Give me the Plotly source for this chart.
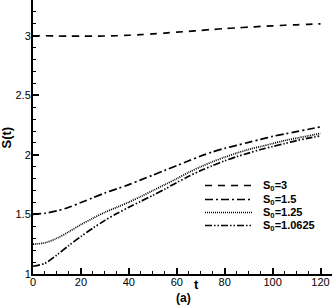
import plotly.graph_objects as go

t = [0, 5, 10, 15, 20, 25, 30, 35, 40, 45, 50, 55, 60, 65, 70, 75, 80, 85, 90, 95, 100, 105, 110, 115, 120]
s_3 = [3.000, 3.000, 2.998, 2.997, 2.997, 2.997, 2.998, 3.000, 3.004, 3.009, 3.015, 3.022, 3.030,
       3.037, 3.045, 3.053, 3.060, 3.066, 3.072, 3.078, 3.083, 3.088, 3.092, 3.096, 3.100]
s_15 = [1.500, 1.510, 1.530, 1.560, 1.600, 1.640, 1.680, 1.715, 1.750, 1.790, 1.830, 1.870, 1.910,
        1.950, 1.990, 2.025, 2.055, 2.080, 2.105, 2.130, 2.155, 2.175, 2.195, 2.215, 2.235]
s_125 = [1.250, 1.262, 1.300, 1.355, 1.415, 1.468, 1.518, 1.560, 1.603, 1.650, 1.700, 1.750, 1.800,
         1.853, 1.900, 1.943, 1.980, 2.015, 2.045, 2.070, 2.095, 2.120, 2.140, 2.160, 2.180]
s_10625 = [1.065, 1.090, 1.160, 1.240, 1.315, 1.385, 1.450, 1.508, 1.560, 1.610, 1.660, 1.712, 1.768,
           1.820, 1.868, 1.910, 1.950, 1.985, 2.015, 2.045, 2.070, 2.095, 2.120, 2.140, 2.160]

names = ["S<sub>0</sub>=3", "S<sub>0</sub>=1.5", "S<sub>0</sub>=1.25", "S<sub>0</sub>=1.0625"]
series = [s_3, s_15, s_125, s_10625]
dashes = ["7px,6px", "8px,3px,2px,3px", "1px,1px", "7px,2px,1.5px,2px,1.5px,2px"]

FONT = "Liberation Sans, Arial, sans-serif"

fig = go.Figure()
for name, ys, d in zip(names, series, dashes):
    fig.add_trace(go.Scatter(x=t, y=ys, mode="lines", name=name, showlegend=False,
                             hoverinfo="skip",
                             line=dict(color="black", width=1.7, dash=d, shape="spline", smoothing=0.8)))

axis_common = dict(showgrid=False, zeroline=False, showline=True, linecolor="black",
                   linewidth=2, ticks="inside", tickcolor="black", ticklen=6, tickwidth=1.5,
                   tickfont=dict(family=FONT, size=11, color="black"),
                   mirror=False, automargin=False)

fig.update_xaxes(range=[0, 124.8], tickvals=[0, 20, 40, 60, 80, 100, 120],
                 ticklabelstandoff=-3,
                 minor=dict(dtick=5, ticks="inside", ticklen=3, tickcolor="black", tickwidth=1),
                 **axis_common)
fig.update_yaxes(range=[1, 3.3], tickvals=[1, 1.5, 2, 2.5, 3],
                 ticklabelstandoff=-2,
                 minor=dict(dtick=0.1, ticks="inside", ticklen=3, tickcolor="black", tickwidth=1),
                 **axis_common)

# manual legend (pixel positions converted to paper coords)
def px(p):
    return (p - 33) / 299.0

def py(p):
    return (274 - p) / 274.0

legend_rows = [185.5, 199.5, 212.5, 225.5]
shapes = []
annotations = []
for name, d, ry in zip(names, dashes, legend_rows):
    shapes.append(dict(type="line", xref="paper", yref="paper", x0=px(205), x1=px(252),
                       y0=py(ry), y1=py(ry), line=dict(color="black", width=1.7, dash=d)))
    annotations.append(dict(text="<b>" + name + "</b>", x=px(261), y=py(ry), xref="paper", yref="paper",
                            xanchor="left", yanchor="middle", showarrow=False,
                            font=dict(family=FONT, size=11, color="black")))

annotations += [
    dict(text="<b>S(t)</b>", x=px(6), y=py(137.5), xref="paper", yref="paper", showarrow=False,
         xanchor="center", yanchor="middle",
         textangle=-90, font=dict(family=FONT, size=13, color="black")),
    dict(text="<b>t</b>", x=px(196.5), y=py(284.5), xref="paper", yref="paper", showarrow=False,
         xanchor="center", yanchor="middle",
         font=dict(family=FONT, size=13, color="black")),
    dict(text="<b>(a)</b>", x=px(183), y=py(298), xref="paper", yref="paper", showarrow=False,
         xanchor="center", yanchor="middle",
         font=dict(family=FONT, size=12, color="black")),
]

fig.update_layout(
    width=332, height=305,
    margin=dict(l=33, r=0, t=0, b=31, autoexpand=False),
    plot_bgcolor="white", paper_bgcolor="white",
    showlegend=False,
    shapes=shapes,
    annotations=annotations,
)

fig.write_html("out.html", config={"displayModeBar": False},
               post_script="document.body.style.margin='0';document.body.style.overflow='hidden';")
